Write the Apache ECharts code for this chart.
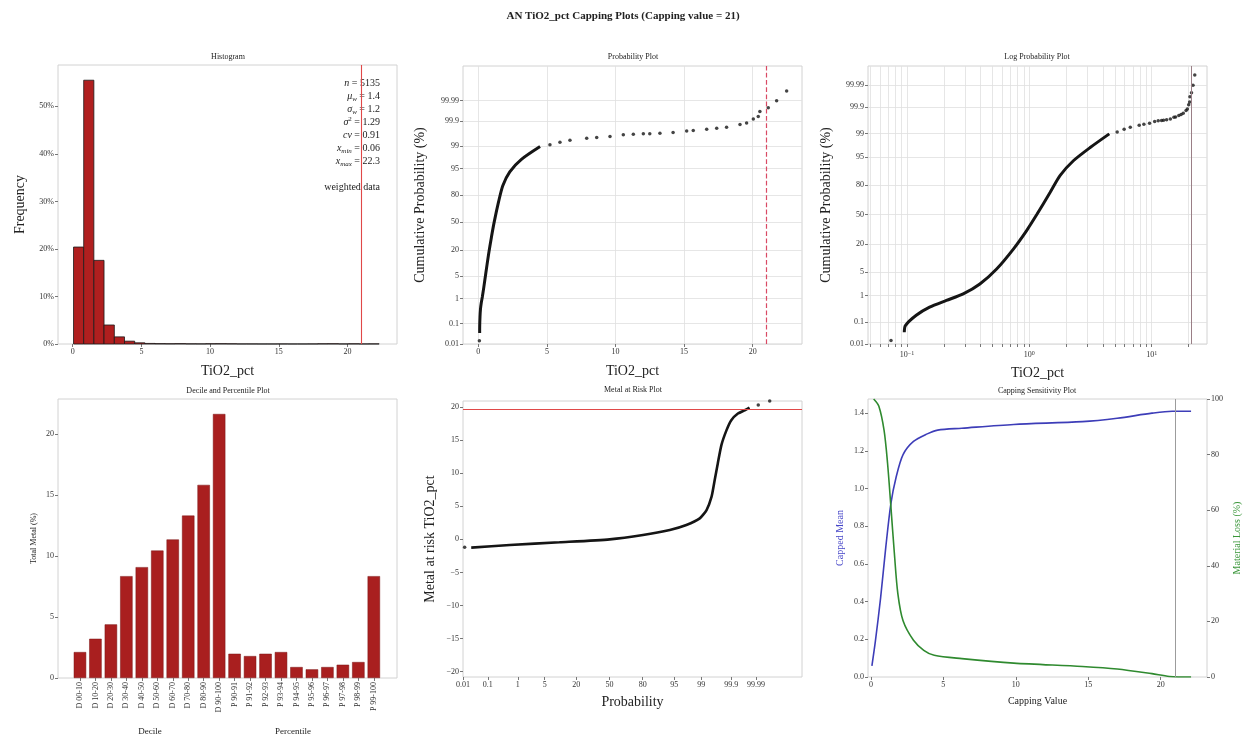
<!DOCTYPE html>
<html>
<head>
<meta charset="utf-8">
<script src="https://cdn.jsdelivr.net/npm/echarts@6/dist/echarts.min.js"></script>
<style>
  html, body { margin: 0; padding: 0; background: #fff; }
  #chart { width: 1246px; height: 744px; }
</style>
</head>
<body>
<div id="chart"></div>
<script>
const FONT = '"Liberation Serif", "DejaVu Serif", serif';
const CAP = 21;

// ---- Histogram (weighted), bin edges and frequency (%) ----
const histEdges = [0.06, 0.80, 1.54, 2.28, 3.03, 3.77, 4.51, 5.25, 5.99, 6.73, 7.47, 8.21, 8.96, 9.70, 10.44,
  11.18, 11.92, 12.66, 13.40, 14.15, 14.89, 15.63, 16.37, 17.11, 17.85, 18.59, 19.34, 20.08, 20.82, 21.56, 22.30];
const histFreq = [20.4, 55.5, 17.6, 4.0, 1.5, 0.6, 0.25, 0.12, 0.08, 0.06, 0.08, 0.04, 0.03, 0.06, 0.07,
  0.05, 0.02, 0.02, 0.01, 0.01, 0.02, 0.01, 0.01, 0.02, 0.05, 0.06, 0.02, 0.05, 0.02, 0.03];

// ---- Probability ticks ----
const probTicks = [0.01, 0.1, 1, 5, 20, 50, 80, 95, 99, 99.9, 99.99];
const probTickLabels = ['0.01', '0.1', '1', '5', '20', '50', '80', '95', '99', '99.9', '99.99'];

// ---- Cumulative distribution: [TiO2_pct, cumulative probability %] ----
const cdfBody = [[0.095, 0.036], [0.097, 0.071], [0.119, 0.19], [0.153, 0.39], [0.21, 0.68], [0.288, 1.13],
  [0.394, 2.3], [0.54, 5.9], [0.74, 16.1], [0.95, 32.3], [1.15, 50], [1.48, 73.9], [1.78, 86.9],
  [2.29, 93.9], [3.14, 97.3], [4.5, 98.98]];
const cdfTail = [[0.074, 0.0147], [5.22, 99.12], [5.95, 99.29], [6.68, 99.40], [7.90, 99.49], [8.63, 99.53],
  [9.60, 99.57], [10.57, 99.63], [11.30, 99.65], [12.03, 99.66], [12.5, 99.665], [13.24, 99.68],
  [14.2, 99.70], [15.19, 99.74], [15.67, 99.75], [16.65, 99.78], [17.38, 99.80], [18.10, 99.82],
  [19.08, 99.86], [19.56, 99.88], [20.05, 99.92], [20.41, 99.94], [20.53, 99.965], [21.14, 99.977],
  [21.75, 99.990], [22.48, 99.997]];

// ---- Decile / percentile metal content ----
const decileCats = ['D 00-10', 'D 10-20', 'D 20-30', 'D 30-40', 'D 40-50', 'D 50-60', 'D 60-70', 'D 70-80',
  'D 80-90', 'D 90-100', 'P 90-91', 'P 91-92', 'P 92-93', 'P 93-94', 'P 94-95', 'P 95-96', 'P 96-97',
  'P 97-98', 'P 98-99', 'P 99-100'];
const decileMetal = [2.13, 3.22, 4.40, 8.36, 9.10, 10.46, 11.37, 13.33, 15.85, 21.67,
  1.99, 1.80, 1.99, 2.13, 0.90, 0.71, 0.90, 1.09, 1.31, 8.36];

// ---- Metal at risk: [probability %, metal at risk] ----
const marCurve = [[0.0224, -1.26], [0.570, -0.86], [10.2, -0.45], [50.2, 0.0], [80.2, 0.65], [93.7, 1.41],
  [97.44, 2.16], [98.90, 3.17], [99.31, 4.43], [99.52, 6.44], [99.62, 8.96], [99.70, 11.47], [99.774, 14.24],
  [99.851, 16.5], [99.900, 18.0], [99.944, 19.0], [99.970, 19.5], [99.981, 19.9]];
const marIsolated = [[0.0118, -1.21], [99.992, 20.3], [99.9976, 20.9]];
const marLimit = 19.7;

// ---- Capping sensitivity ----
const capMeanX = [0.07, 0.31, 0.67, 1.03, 1.38, 1.74, 2.22, 2.94, 3.89, 4.61, 6.28, 9.86, 14.6, 17.0, 19.4, 20.8, 22.1];
const cappedMean = [0.059, 0.19, 0.42, 0.69, 0.92, 1.06, 1.18, 1.25, 1.29, 1.31, 1.32, 1.34, 1.355, 1.373, 1.40, 1.41, 1.41];
const lossX = [0.19, 0.55, 0.91, 1.15, 1.38, 1.62, 1.86, 2.22, 2.94, 3.65, 4.37, 6.28, 9.86, 14.6, 17.0, 19.4, 20.6, 22.1];
const materialLoss = [100, 97.4, 88.7, 76.9, 61.3, 44.5, 30.0, 20.2, 13.2, 9.6, 7.8, 6.6, 5.0, 3.8, 2.9, 1.2, 0.2, 0];

// Inverse standard normal CDF (Acklam) for the probability scales
function normInv(p) {
  const a = [-3.969683028665376e+01, 2.209460984245205e+02, -2.759285104469687e+02, 1.383577518672690e+02, -3.066479806614716e+01, 2.506628277459239e+00];
  const b = [-5.447609879822406e+01, 1.615858368580409e+02, -1.556989798598866e+02, 6.680131188771972e+01, -1.328068155288572e+01];
  const c = [-7.784894002430293e-03, -3.223964580411365e-01, -2.400758277161838e+00, -2.549732539343734e+00, 4.374664141464968e+00, 2.938163982698783e+00];
  const d = [7.784695709041462e-03, 3.224671290700398e-01, 2.445134137142996e+00, 3.754408661907416e+00];
  const pl = 0.02425, ph = 1 - pl;
  let q, r;
  if (p < pl) {
    q = Math.sqrt(-2 * Math.log(p));
    return (((((c[0] * q + c[1]) * q + c[2]) * q + c[3]) * q + c[4]) * q + c[5]) / ((((d[0] * q + d[1]) * q + d[2]) * q + d[3]) * q + 1);
  }
  if (p <= ph) {
    q = p - 0.5; r = q * q;
    return (((((a[0] * r + a[1]) * r + a[2]) * r + a[3]) * r + a[4]) * r + a[5]) * q / (((((b[0] * r + b[1]) * r + b[2]) * r + b[3]) * r + b[4]) * r + 1);
  }
  q = Math.sqrt(-2 * Math.log(1 - p));
  return -(((((c[0] * q + c[1]) * q + c[2]) * q + c[3]) * q + c[4]) * q + c[5]) / ((((d[0] * q + d[1]) * q + d[2]) * q + d[3]) * q + 1);
}
const zOf = pct => normInv(pct / 100);
const probZ = probTicks.map(zOf);
const probFmt = v => {
  let best = 0;
  probZ.forEach((z, i) => { if (Math.abs(z - v) < Math.abs(probZ[best] - v)) best = i; });
  return probTickLabels[best];
};
const minusFmt = v => String(v).replace('-', '\u2212');

// Log axis grid positions
const logGridVals = [0.05, 0.06, 0.07, 0.08, 0.09, 0.1, 0.2, 0.3, 0.4, 0.5, 0.6, 0.7, 0.8, 0.9, 1,
  2, 3, 4, 5, 6, 7, 8, 9, 10, 20];
const logLabelVals = [0.1, 1, 10];
const logFmt = v => {
  const e = Math.round(Math.log10(v));
  return '10{sup|' + (e < 0 ? '\u2212' + (-e) : e) + '}';
};

function mkAxis(o) {
  return {
    type: o.type || 'value',
    gridIndex: o.grid,
    min: o.min, max: o.max,
    position: o.position,
    logBase: o.type === 'log' ? 10 : undefined,
    axisLine: { show: false, onZero: false },
    axisTick: { show: true, length: 3, customValues: o.ticks, lineStyle: { color: '#777' } },
    minorTick: { show: false },
    axisLabel: {
      show: true, customValues: o.labels || o.ticks, formatter: o.fmt,
      fontFamily: FONT, fontSize: o.labelSize || 8, color: '#333', margin: o.margin || 4,
      rotate: o.rotate || 0, rich: o.rich
    },
    splitLine: { show: !!o.gridLines, lineStyle: { color: '#e0e0e0', width: 0.8 } },
    name: o.name, nameLocation: 'middle', nameGap: o.gap,
    nameTextStyle: { fontFamily: FONT, fontSize: o.nameSize || 14, color: o.nameColor || '#222' }
  };
}

const gridBox = { show: true, borderColor: '#d2d2d2', borderWidth: 1, backgroundColor: 'transparent' };
const grids = [
  { left: 58, top: 65, width: 339, height: 279 },
  { left: 463, top: 66, width: 339, height: 278 },
  { left: 868, top: 66, width: 339, height: 278 },
  { left: 58, top: 399, width: 339, height: 279 },
  { left: 463, top: 401, width: 339, height: 276 },
  { left: 868, top: 399, width: 339, height: 278 }
].map(g => Object.assign({}, gridBox, g));

const xAxes = [
  mkAxis({ grid: 0, min: -1.07, max: 23.6, ticks: [0, 5, 10, 15, 20], name: 'TiO2_pct', gap: 20 }),
  mkAxis({ grid: 1, min: -1.12, max: 23.6, ticks: [0, 5, 10, 15, 20], gridLines: true, name: 'TiO2_pct', gap: 20 }),
  mkAxis({ grid: 2, type: 'log', min: 0.048, max: 28.3, ticks: logGridVals, labels: logLabelVals, fmt: logFmt,
    rich: { sup: { fontSize: 6, fontFamily: FONT, color: '#333', verticalAlign: 'top', padding: [0, 0, 4, 0] } },
    gridLines: true, name: 'TiO2_pct', gap: 22, margin: 6 }),
  mkAxis({ grid: 3, min: -1.42, max: 20.5, ticks: decileCats.map((c, i) => i), fmt: v => decileCats[Math.round(v)] || '',
    rotate: 90, margin: 4 }),
  mkAxis({ grid: 4, min: zOf(0.01), max: 4.885, ticks: probZ, fmt: probFmt, name: 'Probability', gap: 18 }),
  mkAxis({ grid: 5, min: -0.2, max: 23.2, ticks: [0, 5, 10, 15, 20], name: 'Capping Value', nameSize: 10, gap: 19 })
];

const yAxes = [
  mkAxis({ grid: 0, min: 0, max: 58.7, ticks: [0, 10, 20, 30, 40, 50], fmt: v => v + '%', name: 'Frequency', gap: 31 }),
  mkAxis({ grid: 1, min: zOf(0.01), max: 4.78, ticks: probZ, fmt: probFmt, gridLines: true,
    name: 'Cumulative Probability (%)', gap: 36 }),
  mkAxis({ grid: 2, min: zOf(0.01), max: 4.27, ticks: probZ, fmt: probFmt, gridLines: true,
    name: 'Cumulative Probability (%)', gap: 35 }),
  mkAxis({ grid: 3, min: 0, max: 22.9, ticks: [0, 5, 10, 15, 20], name: 'Total Metal (%)', nameSize: 8, gap: 20 }),
  mkAxis({ grid: 4, min: -20.8, max: 20.9, ticks: [-20, -15, -10, -5, 0, 5, 10, 15, 20], fmt: minusFmt,
    name: 'Metal at risk TiO2_pct', gap: 26 }),
  mkAxis({ grid: 5, min: 0, max: 1.475, ticks: [0, 0.2, 0.4, 0.6, 0.8, 1.0, 1.2, 1.4], fmt: v => v.toFixed(1),
    name: 'Capped Mean', nameSize: 10, nameColor: '#4646c8', gap: 23 }),
  mkAxis({ grid: 5, position: 'right', min: 0, max: 100, ticks: [0, 20, 40, 60, 80, 100],
    name: 'Material Loss (%)', nameSize: 10, nameColor: '#3a963a', gap: 25 })
];

const histData = histFreq.map((f, i) => [histEdges[i], histEdges[i + 1], f]);
const toProb = arr => arr.map(([v, p]) => [v, zOf(p)]);
const marToXY = arr => arr.map(([p, v]) => [zOf(p), v]);

// Reference lines (capping value) drawn through the axes' own scales
const refLine = (key, val, color, type, width) => {
  const ls = { color, type, width: width || 1, opacity: 1 };
  return {
    silent: true, symbol: 'none', label: { show: false }, emphasis: { disabled: true },
    lineStyle: ls,
    data: [{ [key]: val, lineStyle: ls }]
  };
};

const series = [
  {
    type: 'custom', xAxisIndex: 0, yAxisIndex: 0, data: histData,
    encode: { x: [0, 1], y: 2 },
    renderItem: (params, api) => {
      const p0 = api.coord([api.value(0), api.value(2)]);
      const p1 = api.coord([api.value(1), 0]);
      return {
        type: 'rect',
        shape: { x: p0[0], y: p0[1], width: p1[0] - p0[0], height: p1[1] - p0[1] },
        style: { fill: '#b01f1f', stroke: '#1a1a1a', lineWidth: 0.8 }
      };
    }
  },
  { type: 'line', xAxisIndex: 0, yAxisIndex: 0, data: [], color: '#e04848',
    markLine: refLine('xAxis', CAP, '#e04848', 'solid', 1.1) },

  { type: 'line', xAxisIndex: 1, yAxisIndex: 1, data: toProb(cdfBody), symbol: 'none', smooth: 0.25,
    lineStyle: { color: '#151515', width: 3 }, markLine: refLine('xAxis', CAP, '#d94a64', 'dashed', 1.2) },
  { type: 'scatter', xAxisIndex: 1, yAxisIndex: 1, data: toProb(cdfTail), symbolSize: 3.5,
    itemStyle: { color: '#151515' } },

  { type: 'line', xAxisIndex: 2, yAxisIndex: 2, data: toProb(cdfBody), symbol: 'none', smooth: 0.25,
    lineStyle: { color: '#151515', width: 3 }, markLine: refLine('xAxis', CAP, '#9a7f86', 'solid', 1) },
  { type: 'scatter', xAxisIndex: 2, yAxisIndex: 2, data: toProb(cdfTail), symbolSize: 3.5,
    itemStyle: { color: '#151515' } },

  { type: 'bar', xAxisIndex: 3, yAxisIndex: 3, data: decileMetal.map((v, i) => [i, v]), barWidth: 12.4,
    itemStyle: { color: '#a91f1f', borderColor: '#7a1515', borderWidth: 0.5 } },

  { type: 'line', xAxisIndex: 4, yAxisIndex: 4, data: marToXY(marCurve), symbol: 'none', smooth: 0.2,
    lineStyle: { color: '#151515', width: 2.6 },
    markLine: refLine('yAxis', marLimit, '#e04848', 'solid', 1.1) },
  { type: 'scatter', xAxisIndex: 4, yAxisIndex: 4, data: marToXY(marIsolated), symbolSize: 3.5,
    itemStyle: { color: '#151515' } },

  { type: 'line', xAxisIndex: 5, yAxisIndex: 5, data: capMeanX.map((x, i) => [x, cappedMean[i]]),
    symbol: 'none', smooth: 0.3, lineStyle: { color: '#3d3db8', width: 1.6 },
    markLine: refLine('xAxis', CAP, '#9c9c9c', 'solid', 1) },
  { type: 'line', xAxisIndex: 5, yAxisIndex: 6, data: lossX.map((x, i) => [x, materialLoss[i]]),
    symbol: 'none', smooth: 0.3, lineStyle: { color: '#2f8a2f', width: 1.6 } }
];

const txt = (text, x, y, size, opts) => ({
  type: 'text', x, y, silent: true,
  style: Object.assign({ text, font: (opts && opts.bold ? 'bold ' : '') + size + 'px ' + FONT,
    fill: '#222', textAlign: 'center', textVerticalAlign: 'middle' }, opts && opts.style)
});

const statsText = [
  '{i|n} = 5135',
  '{i|μ}{s|w} = 1.4',
  '{i|σ}{s|w} = 1.2',
  '{i|σ}{p|2} = 1.29',
  '{i|cv} = 0.91',
  '{i|x}{s|min} = 0.06',
  '{i|x}{s|max} = 22.3',
  '',
  'weighted data'
].join('\n');

const graphics = [
  txt('AN TiO2_pct Capping Plots (Capping value = 21)', 623, 16, 11, { bold: true }),
  txt('Histogram', 228, 57, 8),
  txt('Probability Plot', 633, 57, 8),
  txt('Log Probability Plot', 1037, 57, 8),
  txt('Decile and Percentile Plot', 228, 391, 8),
  txt('Metal at Risk Plot', 633, 390, 8),
  txt('Capping Sensitivity Plot', 1037, 391, 8),
  txt('Decile', 150, 732, 9),
  txt('Percentile', 293, 732, 9),
  {
    type: 'text', x: 380, y: 77, silent: true,
    style: {
      text: statsText, font: '10px ' + FONT, fill: '#222', textAlign: 'right', textVerticalAlign: 'top',
      lineHeight: 13,
      rich: {
        i: { fontFamily: FONT, fontSize: 10, fontStyle: 'italic', fill: '#222', lineHeight: 13 },
        s: { fontFamily: FONT, fontSize: 7, fontStyle: 'italic', fill: '#222', verticalAlign: 'bottom', lineHeight: 13 },
        p: { fontFamily: FONT, fontSize: 7, fill: '#222', verticalAlign: 'top', lineHeight: 13 }
      }
    }
  }
];

const chart = echarts.init(document.getElementById('chart'), null, { renderer: 'canvas' });
chart.setOption({
  backgroundColor: '#ffffff',
  animation: false,
  textStyle: { fontFamily: FONT },
  grid: grids,
  xAxis: xAxes,
  yAxis: yAxes,
  series,
  graphic: graphics
});
</script>
</body>
</html>
